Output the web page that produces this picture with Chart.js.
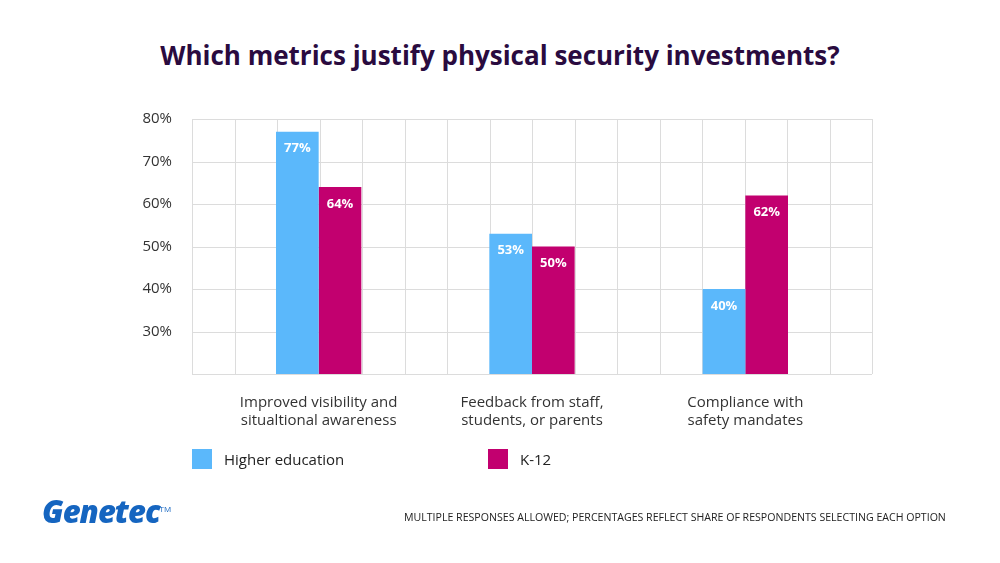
<!DOCTYPE html>
<html><head><meta charset="utf-8">
<script src="https://cdn.jsdelivr.net/npm/chart.js@4"></script>
<style>
body{margin:0;width:1000px;height:563px;background:#fff;font-family:'Open Sans',sans-serif;position:relative;overflow:hidden}
#t{position:absolute;top:37px;left:0;width:1000px;text-align:center;font:700 26px 'Open Sans',sans-serif;color:#2a0b3f}
#wrap{position:absolute;left:0;top:0;width:1000px;height:563px}
.lg{position:absolute;top:449px;font:15px 'Open Sans',sans-serif;color:#222;display:flex;align-items:center}
.lg span{display:inline-block;width:20px;height:20px;margin-right:12px}
#logo{position:absolute;left:42px;top:490px;font:italic 800 31px 'Open Sans',sans-serif;color:#1565c0;letter-spacing:-1px}
#logo sup{font-size:8px;font-style:normal;font-weight:400;letter-spacing:0}
#note{position:absolute;left:404px;top:510px;font:10.6px 'Open Sans',sans-serif;color:#222;white-space:nowrap}
</style></head><body>
<div id="t">Which metrics justify physical security investments?</div>
<div id="wrap"><canvas id="c" width="1000" height="563"></canvas></div>
<div class="lg" style="left:192px"><span style="background:#5bb8fb"></span>Higher education</div>
<div class="lg" style="left:488px"><span style="background:#c2006f"></span>K-12</div>
<div id="logo">Genetec<sup>TM</sup></div>
<div id="note">MULTIPLE RESPONSES ALLOWED; PERCENTAGES REFLECT SHARE OF RESPONDENTS SELECTING EACH OPTION</div>
<script>
const categories=[["Improved visibility and","situaltional awareness"],["Feedback from staff,","students, or parents"],["Compliance with","safety mandates"]];
const higherEd=[77,53,40];
const k12=[64,50,62];
const seriesNames=["Higher education","K-12"];
const yTicks=[30,40,50,60,70,80];
const grid={id:'grid',beforeDatasetsDraw(ch){const c=ch.ctx,a=ch.chartArea,y=ch.scales.y;const L=a.left-20,R=a.right+20;c.save();c.strokeStyle='#dcdcdc';c.lineWidth=1;
for(let k=0;k<=16;k++){const x=Math.round(L+k*(R-L)/16)+.5;c.beginPath();c.moveTo(x,a.top);c.lineTo(x,a.bottom);c.stroke();}
for(let v=20;v<=80;v+=10){const p=Math.round(y.getPixelForValue(v))+.5;c.beginPath();c.moveTo(L,p);c.lineTo(R,p);c.stroke();}c.restore();}};
const labels={id:'lbl',afterDatasetsDraw(ch){const c=ch.ctx;c.save();c.fillStyle='#fff';c.font='bold 13px "Open Sans"';c.textAlign='center';c.textBaseline='middle';
ch.data.datasets.forEach((d,i)=>ch.getDatasetMeta(i).data.forEach((b,j)=>c.fillText(d.data[j]+'%',b.x,b.y+17)));c.restore();}};
new Chart(document.getElementById('c'),{type:'bar',
data:{labels:categories,datasets:[{label:seriesNames[0],data:higherEd,backgroundColor:'#5bb8fb'},{label:seriesNames[1],data:k12,backgroundColor:'#c2006f'}]},
options:{responsive:false,animation:false,layout:{padding:{top:119,right:148,left:0,bottom:0}},
plugins:{legend:{display:false},tooltip:{enabled:false}},
datasets:{bar:{categoryPercentage:0.4,barPercentage:1}},
scales:{x:{grid:{display:false},border:{display:false},ticks:{color:'#333',font:{size:15,family:'Open Sans'},padding:12,maxRotation:0},afterFit:s=>{s.height=189}},
y:{min:20,max:80,grid:{display:false},border:{display:false},afterBuildTicks:s=>{s.ticks=yTicks.map(v=>({value:v}))},
ticks:{color:'#333',font:{size:15,family:'Open Sans'},padding:32,callback:v=>v+'%'},afterFit:s=>{s.width=212}}}},
plugins:[grid,labels]});
</script></body></html>
